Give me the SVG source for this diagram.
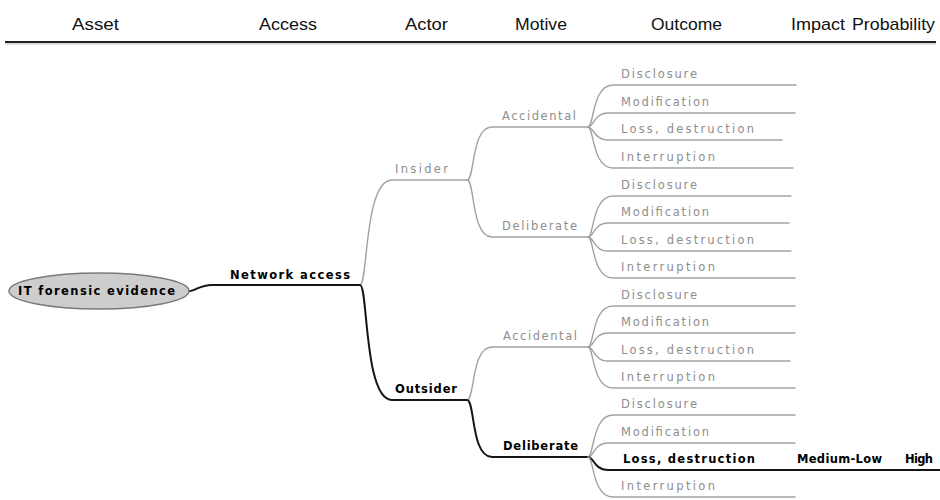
<svg xmlns="http://www.w3.org/2000/svg" width="940" height="500" viewBox="0 0 940 500">
  <style>
    .hd { font-family: "Liberation Sans", Arial, sans-serif; font-size: 17px; fill: #111; }
    .lb { font-family: "DejaVu Sans", Verdana, sans-serif; font-size: 11.5px; fill: #8e8e8e; }
    .on { fill: #000; font-weight: bold; }
    .c { fill: none; stroke: #a2a2a2; stroke-width: 1.4; stroke-linecap: round; }
    .k { stroke: #151515; stroke-width: 2; }
  </style>
  <rect width="940" height="500" fill="#fff"/>

  <!-- column headings -->
  <g id="header">
    <text class="hd" x="72" y="30" textLength="47" lengthAdjust="spacingAndGlyphs">Asset</text>
    <text class="hd" x="259" y="30" textLength="58" lengthAdjust="spacingAndGlyphs">Access</text>
    <text class="hd" x="405" y="30" textLength="43" lengthAdjust="spacingAndGlyphs">Actor</text>
    <text class="hd" x="515" y="30" textLength="52" lengthAdjust="spacingAndGlyphs">Motive</text>
    <text class="hd" x="651" y="30" textLength="71" lengthAdjust="spacingAndGlyphs">Outcome</text>
    <text class="hd" x="791" y="30" textLength="54" lengthAdjust="spacingAndGlyphs">Impact</text>
    <text class="hd" x="852" y="30" textLength="83" lengthAdjust="spacingAndGlyphs">Probability</text>
    <line x1="5" y1="42" x2="936" y2="42" stroke="#222" stroke-width="2"/>
    <line x1="5" y1="44" x2="936" y2="44" stroke="#bbb" stroke-width="1"/>
  </g>

  <!-- branches: curve from parent fork plus the underline of each child -->
  <g id="connectors">
    <path class="c k" d="M184,292 C196,292 198,285 212,285 L360,285"/>
    <!-- actors -->
    <path class="c" d="M360,285 C368,285 364,180 392,180 L467,180"/>
    <path class="c k" d="M360,285 C368,285 364,400 392,400 L467,400"/>
    <!-- motives -->
    <path class="c" d="M467,180 C475,180 471,127 492,127 L588,127"/>
    <path class="c" d="M467,180 C475,180 471,237 492,237 L588,237"/>
    <path class="c" d="M467,400 C475,400 471,347 492,347 L588,347"/>
    <path class="c k" d="M467,400 C475,400 471,457 492,457 L588,457"/>
    <!-- outcomes, insider / accidental -->
    <path class="c" d="M588,127 C594,127 592,85 613,85 L796,85"/>
    <path class="c" d="M588,127 C594,127 594,113 608,113 L795,113"/>
    <path class="c" d="M588,127 C594,127 594,140 608,140 L782,140"/>
    <path class="c" d="M588,127 C594,127 592,168 613,168 L793,168"/>
    <!-- outcomes, insider / deliberate -->
    <path class="c" d="M588,237 C594,237 592,196 613,196 L791,196"/>
    <path class="c" d="M588,237 C594,237 594,223 608,223 L789,223"/>
    <path class="c" d="M588,237 C594,237 594,251 608,251 L791,251"/>
    <path class="c" d="M588,237 C594,237 592,278 613,278 L795,278"/>
    <!-- outcomes, outsider / accidental -->
    <path class="c" d="M588,347 C594,347 592,306 613,306 L795,306"/>
    <path class="c" d="M588,347 C594,347 594,333 608,333 L795,333"/>
    <path class="c" d="M588,347 C594,347 594,361 608,361 L790,361"/>
    <path class="c" d="M588,347 C594,347 592,388 613,388 L795,388"/>
    <!-- outcomes, outsider / deliberate -->
    <path class="c" d="M588,457 C594,457 592,415 613,415 L795,415"/>
    <path class="c" d="M588,457 C594,457 594,443 608,443 L795,443"/>
    <path class="c k" d="M588,457 C594,457 594,470 608,470 L940,470"/>
    <path class="c" d="M588,457 C594,457 592,497 613,497 L795,497"/>
  </g>

  <g id="asset">
    <ellipse cx="99" cy="291" rx="90" ry="18" fill="#cdcdcd" stroke="#7a7a7a" stroke-width="1.5"/>
    <text class="lb on" x="18" y="295" textLength="157">IT forensic evidence</text>
  </g>
  <g id="network-access"><text class="lb on" x="230" y="279" textLength="120">Network access</text></g>

  <g id="insider"><text class="lb" x="395" y="173" textLength="53">Insider</text></g>
  <g id="outsider"><text class="lb on" x="395" y="393" textLength="62">Outsider</text></g>

  <g id="insider-accidental"><text class="lb" x="502" y="120" textLength="74">Accidental</text></g>
  <g id="insider-deliberate"><text class="lb" x="502" y="230" textLength="75">Deliberate</text></g>
  <g id="outsider-accidental"><text class="lb" x="503" y="340" textLength="74">Accidental</text></g>
  <g id="outsider-deliberate"><text class="lb on" x="503" y="450" textLength="75">Deliberate</text></g>

  <g id="ia-disclosure"><text class="lb" x="621" y="78" textLength="76">Disclosure</text></g>
  <g id="ia-modification"><text class="lb" x="621" y="106" textLength="88">Modification</text></g>
  <g id="ia-loss"><text class="lb" x="621" y="133" textLength="133">Loss, destruction</text></g>
  <g id="ia-interruption"><text class="lb" x="621" y="161" textLength="94">Interruption</text></g>

  <g id="id-disclosure"><text class="lb" x="621" y="189" textLength="76">Disclosure</text></g>
  <g id="id-modification"><text class="lb" x="621" y="216" textLength="88">Modification</text></g>
  <g id="id-loss"><text class="lb" x="621" y="244" textLength="133">Loss, destruction</text></g>
  <g id="id-interruption"><text class="lb" x="621" y="271" textLength="94">Interruption</text></g>

  <g id="oa-disclosure"><text class="lb" x="621" y="299" textLength="76">Disclosure</text></g>
  <g id="oa-modification"><text class="lb" x="621" y="326" textLength="88">Modification</text></g>
  <g id="oa-loss"><text class="lb" x="621" y="354" textLength="133">Loss, destruction</text></g>
  <g id="oa-interruption"><text class="lb" x="621" y="381" textLength="94">Interruption</text></g>

  <g id="od-disclosure"><text class="lb" x="621" y="408" textLength="76">Disclosure</text></g>
  <g id="od-modification"><text class="lb" x="621" y="436" textLength="88">Modification</text></g>
  <g id="od-loss">
    <text class="lb on" x="623" y="463" textLength="132">Loss, destruction</text>
    <text class="lb on" x="797" y="463" textLength="85">Medium-Low</text>
    <text class="lb on" x="905" y="463" textLength="28">High</text>
  </g>
  <g id="od-interruption"><text class="lb" x="621" y="490" textLength="94">Interruption</text></g>
</svg>
